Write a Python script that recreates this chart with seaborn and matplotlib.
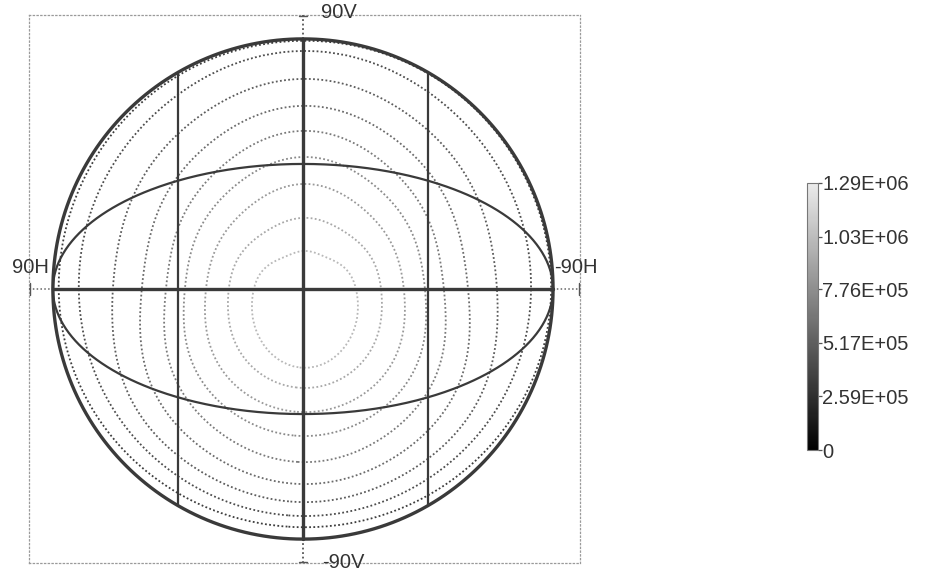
import numpy as np
import matplotlib
matplotlib.use("Agg")
import matplotlib.pyplot as plt
import seaborn as sns
from matplotlib.colors import LinearSegmentedColormap, Normalize
from matplotlib.patches import Circle
import matplotlib.cm as cm

# ---- intensity data -------------------------------------------------------
peak_value = 1.29e6
# isoline values, outermost to innermost
levels = [1.29e5, 2.58e5, 3.87e5, 5.16e5, 6.45e5, 7.74e5, 9.03e5, 1.032e6, 1.161e6]

# directions (deg above the horizontal) in which each isoline radius is given;
# the left half of the pattern mirrors the right half
theta_deg = [90, 60, 30, 0, -30, -60, -90]

# isoline radius (deg) from the beam centre in each direction above
r_lvl1 = [89.3, 89.3, 88.9, 88.6, 87.8, 86.4, 85.7]
r_lvl2 = [85.7, 83.8, 82.2, 81.4, 81.4, 81.4, 81.7]
r_lvl3 = [75.6, 73.0, 70.4, 69.1, 73.8, 75.6, 76.7]
r_lvl4 = [65.9, 63.0, 60.0, 58.7, 64.8, 68.4, 70.2]
r_lvl5 = [56.9, 53.8, 51.0, 50.0, 55.8, 60.1, 62.3]
r_lvl6 = [47.5, 45.2, 43.6, 43.2, 47.9, 51.5, 52.9]
r_lvl7 = [37.8, 36.0, 35.2, 35.6, 39.6, 43.2, 44.3]
r_lvl8 = [25.6, 25.0, 26.2, 27.4, 30.6, 34.2, 35.6]
r_lvl9 = [13.7, 13.6, 16.0, 18.4, 21.6, 25.9, 28.4]
beam_centre = (0.7, 0.0)

# colour bar
cbar_ticks = [0, 2.59e5, 5.17e5, 7.76e5, 1.03e6, 1.29e6]
cbar_labels = ["0", "2.59E+05", "5.17E+05", "7.76E+05", "1.03E+06", "1.29E+06"]

# projection grid
edge_angle = 90.0
guide_angle = 45.0

# ---- style ----------------------------------------------------------------
sns.set_theme(style="white")
plt.rcParams["font.family"] = ["Liberation Sans", "DejaVu Sans"]
ink = "#3a3a3a"
text_col = "#333333"
fs = 14.5

fig = plt.figure(figsize=(9.26, 5.71), dpi=100)
ax = fig.add_axes([29 / 926, 8 / 571, 551 / 926, 548 / 571])
ax.set_xlim(-98.6, 99.7)
ax.set_ylim(-98.6, 98.6)
ax.set_xticks([])
ax.set_yticks([])
for sp in ax.spines.values():
    sp.set_linestyle((0, (1, 2)))
    sp.set_color("#9a9a9a")
    sp.set_linewidth(0.9)

# ---- intensity field built from the isoline table -------------------------
# each isoline radius is a smooth even function of the angle from straight up;
# fit a cosine series that passes through the tabulated directions
radii = np.array([r_lvl1, r_lvl2, r_lvl3, r_lvl4, r_lvl5,
                  r_lvl6, r_lvl7, r_lvl8, r_lvl9])
psi_knots = np.radians(90.0 - np.array(theta_deg, dtype=float))
orders = np.arange(len(theta_deg))
basis = np.cos(np.outer(psi_knots, orders))
coeffs = np.linalg.solve(basis, radii.T)          # (orders, levels)

grid = np.linspace(-95, 95, 801)
U, V = np.meshgrid(grid, grid)
du = np.abs(U - beam_centre[0])
dv = V - beam_centre[1]
psi = np.arctan2(du, dv)                          # 0 = up, pi = down
R = np.hypot(du, dv)
cos_terms = np.cos(psi[..., None] * orders)       # (ny, nx, orders)
ring = [cos_terms @ coeffs[:, i] for i in range(len(levels))]

knot_r = [np.zeros_like(R)] + ring[::-1] + [ring[0] + 8.0]
knot_v = [peak_value] + levels[::-1] + [0.0]
Z = np.zeros_like(R)
for j in range(len(knot_r) - 1):
    r0, r1 = knot_r[j], knot_r[j + 1]
    inside = (R >= r0) & (R < r1)
    t = (R - r0) / (r1 - r0)
    Z = np.where(inside, knot_v[j] + t * (knot_v[j + 1] - knot_v[j]), Z)

line_colors = [plt.cm.gray(0.18 + 0.6 * lv / peak_value) for lv in levels]
cs = ax.contour(U, V, Z, levels=levels, colors=line_colors,
                linestyles=[(0, (1, 1.3))], linewidths=1.3, zorder=2)
clip = Circle((0, 0), edge_angle, transform=ax.transData, facecolor="none",
              edgecolor="none")
ax.add_patch(clip)
cs.set_clip_path(clip)

# ---- projection grid --------------------------------------------------------
t = np.linspace(0, 2 * np.pi, 721)
sns.lineplot(x=edge_angle * np.cos(t), y=edge_angle * np.sin(t), sort=False,
             estimator=None, ax=ax, color=ink, linewidth=2.4, zorder=4)
sns.lineplot(x=edge_angle * np.cos(t), y=guide_angle * np.sin(t), sort=False,
             estimator=None, ax=ax, color=ink, linewidth=1.6, zorder=4)

v_guide = np.sqrt(edge_angle ** 2 - guide_angle ** 2)
for x in (-guide_angle, guide_angle):
    ax.plot([x, x], [-v_guide, v_guide], color=ink, lw=1.6, zorder=4)

# main axes through the centre
ax.plot([-edge_angle, edge_angle], [0, 0], color=ink, lw=2.4, zorder=5)
ax.plot([0, 0], [-edge_angle, edge_angle], color=ink, lw=2.4, zorder=5)
dots = (0, (1, 1.5))
ax.plot([-98.6, -edge_angle], [0, 0], color="#666666", lw=1.1, ls=dots, zorder=3)
ax.plot([edge_angle, 99.7], [0, 0], color="#666666", lw=1.1, ls=dots, zorder=3)
ax.plot([0, 0], [edge_angle, 98.6], color="#555555", lw=1.3, ls=dots, zorder=3)
ax.plot([0, 0], [-98.6, -edge_angle], color="#555555", lw=1.3, ls=dots, zorder=3)
# end ticks
for x in (-98.3, 99.4):
    ax.plot([x, x], [-2.2, 2.2], color="#555555", lw=1.0, clip_on=False, zorder=3)
for y in (98.3, -98.3):
    ax.plot([-1.5, 1.5], [y, y], color="#555555", lw=1.0, clip_on=False, zorder=3)

ax.text(6.6, 99.6, "90V", fontsize=fs, color=text_col, ha="left", va="center",
        clip_on=False)
ax.text(6.8, -98.4, "-90V", fontsize=fs, color=text_col, ha="left",
        va="center", clip_on=False)
ax.text(-91.5, 7.6, "90H", fontsize=fs, color=text_col, ha="right",
        va="center", clip_on=False)
ax.text(90.4, 7.6, "-90H", fontsize=fs, color=text_col, ha="left",
        va="center", clip_on=False)

# ---- colour bar --------------------------------------------------------------
cmap = LinearSegmentedColormap.from_list("mono", ["#000000", "#ececec"])
cax = fig.add_axes([807 / 926, (571 - 450) / 571, 11 / 926, 267 / 571])
sm = cm.ScalarMappable(norm=Normalize(0, peak_value), cmap=cmap)
cb = fig.colorbar(sm, cax=cax, ticks=cbar_ticks)
cb.ax.set_yticklabels(cbar_labels, fontsize=fs, color=text_col)
cb.outline.set_edgecolor("#777777")
cb.outline.set_linewidth(0.8)
cax.tick_params(axis="y", length=3, width=0.9, color="#555555", pad=0)

fig.savefig("out.png", dpi=100)
